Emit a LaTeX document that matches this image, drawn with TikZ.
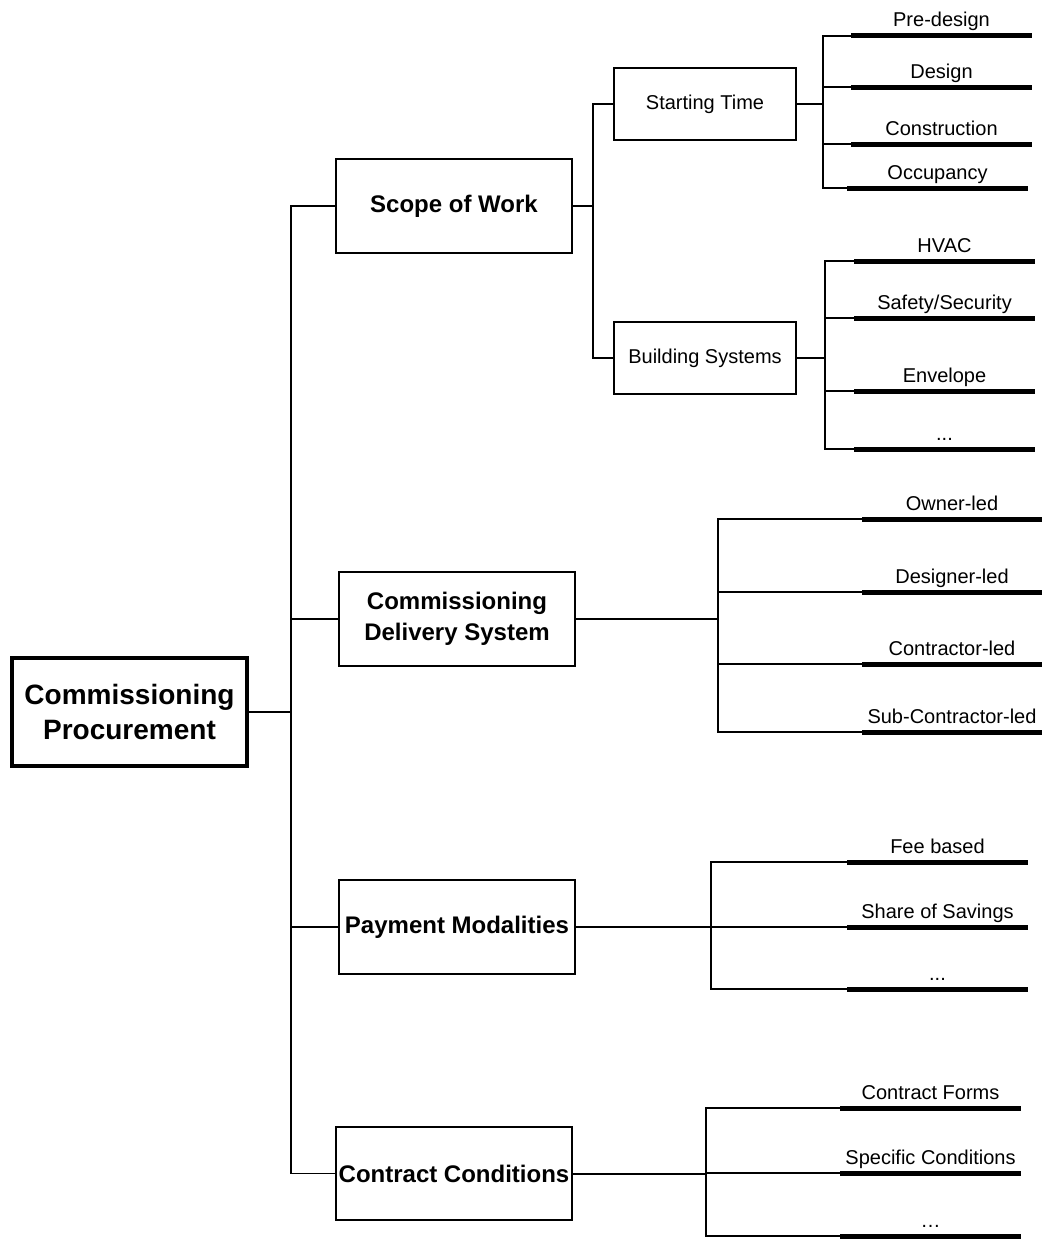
\documentclass[tikz,border=0pt]{standalone}
\usepackage{fontspec}
\setmainfont{Liberation Sans}
\newcommand\mkleaf[5]{%
  \node[leafbar, minimum width={(#3-#2)*1pt}] (#1) at ({(#2+#3)/2},#4) {};
  \node[leaftext] (#1-t) at ({(#2+#3)/2},{#4-9}) {#5};
}
\begin{document}
\begin{tikzpicture}[x=1pt,y=-1pt,
  box/.style={draw, line width=1.5pt, rectangle, inner sep=2pt, align=center,
    font=\fontsize{24}{31}\selectfont\bfseries},
  rootbox/.style={box, line width=4pt, font=\fontsize{28}{35}\selectfont\bfseries},
  subbox/.style={box, font=\fontsize{20}{24}\selectfont},
  leafbar/.style={rectangle, fill=black, draw=none, inner sep=0pt, minimum height=5pt},
  leaftext/.style={anchor=base, inner sep=0pt, font=\fontsize{20}{24}\selectfont},
  conn/.style={line width=1.3pt},
  exitline/.style={line width=2pt}]
\fill[white] (0,0) rectangle (1044,1239);
\useasboundingbox (0,0) rectangle (1044,1239);

% main boxes
\node[rootbox, minimum width=235pt, minimum height=108pt] (root) at (129.5,712) {Commissioning\\Procurement};
\node[box, minimum width=236pt, minimum height=94pt] (sow) at (454,206) {Scope of Work};
\node[box, minimum width=236pt, minimum height=94pt] (cds) at (457,619) {Commissioning\\Delivery System};
\node[box, minimum width=236pt, minimum height=94pt] (pm) at (457,927) {Payment Modalities};
\node[box, minimum width=236pt, minimum height=93pt] (cc) at (454,1173.5) {Contract Conditions};
\node[subbox, minimum width=182pt, minimum height=72pt] (st) at (705,104) {Starting Time};
\node[subbox, minimum width=182pt, minimum height=72pt] (bs) at (705,358) {Building Systems};

% leaves
\mkleaf{pre}{851}{1032}{36}{Pre-design}
\mkleaf{des}{851}{1032}{87}{Design}
\mkleaf{con}{851}{1032}{144}{Construction}
\mkleaf{occ}{847}{1028}{188}{Occupancy}
\mkleaf{hvac}{854}{1035}{261}{HVAC}
\mkleaf{saf}{854}{1035}{318}{Safety/Security}
\mkleaf{env}{854}{1035}{391}{Envelope}
\mkleaf{bsx}{854}{1035}{449}{...}
\mkleaf{own}{862}{1042}{519}{Owner-led}
\mkleaf{dsg}{862}{1042}{592}{Designer-led}
\mkleaf{ctr}{862}{1042}{664}{Contractor-led}
\mkleaf{sub}{862}{1042}{732}{Sub-Contractor-led}
\mkleaf{fee}{847}{1028}{862}{Fee based}
\mkleaf{sha}{847}{1028}{927}{Share of Savings}
\mkleaf{pmx}{847}{1028}{989}{...}
\mkleaf{frm}{840}{1021}{1108}{Contract Forms}
\mkleaf{spc}{840}{1021}{1173}{Specific Conditions}
\mkleaf{ccx}{840}{1021}{1236}{…}

% junction columns
\coordinate (tk) at (291,0);
\coordinate (js) at (593,0);
\coordinate (jst) at (823,0);
\coordinate (jbs) at (825,0);
\coordinate (jcds) at (718,0);
\coordinate (jpm) at (711,0);
\coordinate (jcc) at (706,0);

% trunk
\draw[conn] (sow.west) -- (sow.west -| tk) -- (cc.west -| tk) -- (cc.west);
\draw[conn] (cds.west -| tk) -- (cds.west);
\draw[conn] (pm.west -| tk) -- (pm.west);
\draw[exitline] (root.east) -- (root.east -| tk);

% scope of work
\draw[exitline] (sow.east) -- (sow.east -| js);
\draw[conn] (st.west) -- (st.west -| js) -- (bs.west -| js) -- (bs.west);

% starting time
\draw[exitline] (st.east) -- (st.east -| jst);
\draw[conn] (pre.west) -- (pre.west -| jst) -- (occ.west -| jst) -- (occ.west);
\draw[conn] (des.west -| jst) -- (des.west);
\draw[conn] (con.west -| jst) -- (con.west);

% building systems
\draw[exitline] (bs.east) -- (bs.east -| jbs);
\draw[conn] (hvac.west) -- (hvac.west -| jbs) -- (bsx.west -| jbs) -- (bsx.west);
\draw[conn] (saf.west -| jbs) -- (saf.west);
\draw[conn] (env.west -| jbs) -- (env.west);

% delivery system
\draw[exitline] (cds.east) -- (cds.east -| jcds);
\draw[conn] (own.west) -- (own.west -| jcds) -- (sub.west -| jcds) -- (sub.west);
\draw[conn] (dsg.west -| jcds) -- (dsg.west);
\draw[conn] (ctr.west -| jcds) -- (ctr.west);

% payment modalities
\draw[exitline] (pm.east) -- (pm.east -| jpm);
\draw[conn] (fee.west) -- (fee.west -| jpm) -- (pmx.west -| jpm) -- (pmx.west);
\draw[conn] (sha.west -| jpm) -- (sha.west);

% contract conditions
\draw[exitline] (cc.east) -- (cc.east -| jcc);
\draw[conn] (frm.west) -- (frm.west -| jcc) -- (ccx.west -| jcc) -- (ccx.west);
\draw[conn] (spc.west -| jcc) -- (spc.west);
\end{tikzpicture}
\end{document}
